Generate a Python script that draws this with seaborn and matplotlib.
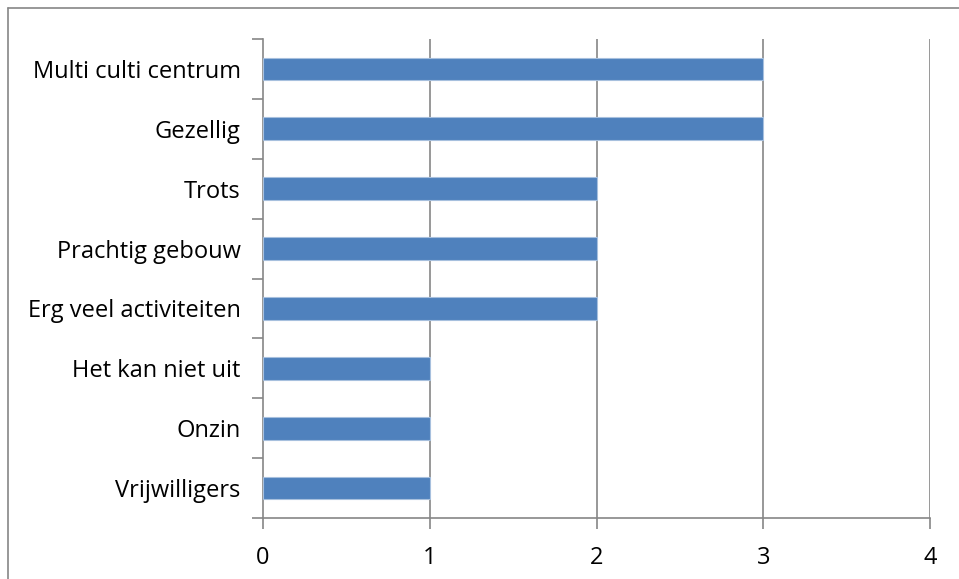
import numpy as np
import matplotlib
matplotlib.use("Agg")
import matplotlib.pyplot as plt
from matplotlib.lines import Line2D
import seaborn as sns

categories = ["Multi culti centrum", "Gezellig", "Trots", "Prachtig gebouw",
              "Erg veel activiteiten", "Het kan niet uit", "Onzin", "Vrijwilligers"]
values = [3, 3, 2, 2, 2, 1, 1, 1]
xticks = [0, 1, 2, 3, 4]

sns.set_style("white")
plt.rcParams["font.family"] = ["Open Sans", "DejaVu Sans"]

W, H = 959, 579
fig = plt.figure(figsize=(W / 100, H / 100), dpi=100)
ax = fig.add_axes([263 / W, 1 - 518 / H, (930 - 263) / W, (518 - 39) / H])

grid_col = "#868686"
sns.barplot(x=values, y=categories, orient="h", color="#4F81BD", width=0.38,
            saturation=1, edgecolor="#A7C0DE", linewidth=0.8, ax=ax, zorder=3)

ax.set_xlim(0, 4)
ax.set_ylim(7.5, -0.5)
ax.set_xticks(xticks)
ax.set_xticklabels([str(t) for t in xticks])
ax.set_xlabel("")
ax.set_ylabel("")
for t in xticks[1:]:
    ax.axvline(t, color=grid_col, linewidth=1.2, zorder=1)

for s in ["top", "right"]:
    ax.spines[s].set_visible(False)
for s in ["left", "bottom"]:
    ax.spines[s].set_color(grid_col)
    ax.spines[s].set_linewidth(1.2)

# excel-like tick marks between categories
ax.set_yticks(np.arange(-0.5, len(categories)), minor=True)
ax.tick_params(axis="y", which="minor", left=True, length=8, width=1.2, color=grid_col, direction="out")
ax.tick_params(axis="y", which="major", left=False, length=0, pad=16, labelsize=17, labelcolor="black")
ax.tick_params(axis="x", which="major", bottom=True, length=8, width=1.2, color=grid_col, direction="out",
               pad=12, labelsize=17, labelcolor="black")

# outer chart border
fig.add_artist(Line2D([8 / W, 1], [1 - 8 / H, 1 - 8 / H], transform=fig.transFigure,
                      color=grid_col, linewidth=1.2))
fig.add_artist(Line2D([8 / W, 8 / W], [0, 1 - 8 / H], transform=fig.transFigure,
                      color=grid_col, linewidth=1.2))

fig.savefig("out.png", dpi=100, facecolor="white")
